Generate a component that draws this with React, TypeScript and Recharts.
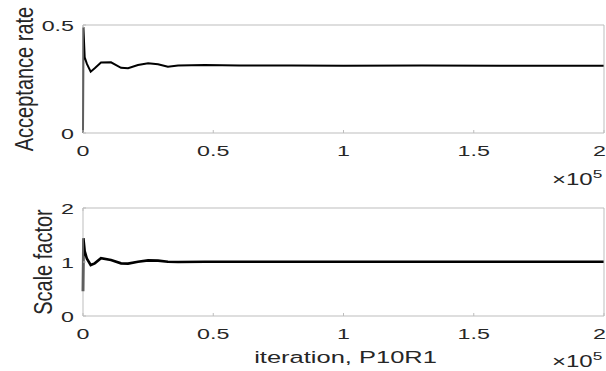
import { LineChart, Line, XAxis, YAxis, Label } from 'recharts';

// values (iteration count, shared x for both panels)
const iterations = [0, 150, 650, 1500, 2950, 4500, 6900, 10750, 14600, 17300, 21100, 25000, 28800, 32600, 36500, 46800, 60000, 80000, 100000, 130000, 160000, 200000];
const acceptanceRate = [0, 0.49, 0.35, 0.32, 0.284, 0.3, 0.326, 0.327, 0.302, 0.3, 0.315, 0.323, 0.318, 0.307, 0.312, 0.315, 0.313, 0.312, 0.311, 0.312, 0.311, 0.311];
const scaleFactor = [0.46, 1.44, 1.2, 1.06, 0.944, 0.975, 1.07, 1.037, 0.975, 0.97, 1.006, 1.03, 1.025, 1.006, 1.0, 1.005, 1.005, 1.006, 1.005, 1.006, 1.005, 1.005];

const xTicks = [0, 50000, 100000, 150000, 200000];
const accTicks = [0, 0.5];
const scaleTicks = [0, 1, 2];

const data = iterations.map((it, i) => ({ it, acc: acceptanceRate[i], sf: scaleFactor[i] }));

const FONT = 'Liberation Sans, Arial, sans-serif';
const TEXT = '#262626';
const AXIS = '#bdbdbd';
const SX = 1.5; // reference glyphs are stretched horizontally

const XTick = ({ x, y, payload }: any) => {
    // last label sits at the right edge of the page, keep it inside
    const last = payload.value === xTicks[xTicks.length - 1];
    return (
        <g transform={`translate(${last ? x + 2 : x},${y})`}>
            <text transform={`scale(${SX},1)`} textAnchor={last ? 'end' : 'middle'} y={23} fontSize={15.5} fill={TEXT} fontFamily={FONT}>
                {String(payload.value / 1e5)}
            </text>
        </g>
    );
};

const YTick = ({ x, y, payload }: any) => (
    <g transform={`translate(${x},${y})`}>
        <text transform={`scale(${SX},1)`} textAnchor="end" dy="0.36em" fontSize={15.5} fill={TEXT} fontFamily={FONT}>
            {String(payload.value)}
        </text>
    </g>
);

const NoTick = () => <g />;

const expLabel = (vb: any, dy: number, xlabel?: string) => {
    const right = vb.x + vb.width;
    return (
        <g fontFamily={FONT} fill={TEXT}>
            <g transform={`translate(${right - 52},${vb.y + dy}) scale(${SX},1)`}>
                <text fontSize={16}>
                    ×10<tspan fontSize={11.5} dy={-7}>5</tspan>
                </text>
            </g>
            {xlabel && (
                <g transform={`translate(${vb.x + vb.width / 2 + 2},${vb.y + 47}) scale(${SX},1)`}>
                    <text fontSize={17} textAnchor="middle">{xlabel}</text>
                </g>
            )}
        </g>
    );
};

const yLabel = (vb: any, dx: number, text: string) => (
    <g transform={`translate(${vb.x + vb.width - dx},${vb.y + vb.height / 2}) scale(1.25,1) rotate(-90)`}>
        <text fontSize={20} textAnchor="middle" fill={TEXT} fontFamily={FONT}>{text}</text>
    </g>
);

const Panel = ({ dataKey, ticks, yMax, title, dx, width, height, margin, strokeWidth, xlabel }: any) => (
    <LineChart width={width} height={height} data={data} margin={margin}>
        <XAxis
            dataKey="it"
            type="number"
            domain={[0, 200000]}
            ticks={xTicks}
            height={1}
            tickSize={-3}
            tickMargin={3}
            tick={<XTick />}
            stroke={AXIS}
            interval={0}
        >
            <Label content={(p: any) => expLabel(p.viewBox, xlabel ? 51 : 52, xlabel)} />
        </XAxis>
        <XAxis
            xAxisId="top"
            orientation="top"
            type="number"
            domain={[0, 200000]}
            ticks={xTicks}
            height={1}
            tickSize={-3}
            tick={NoTick}
            stroke={AXIS}
            interval={0}
        />
        <YAxis
            type="number"
            domain={[0, yMax]}
            ticks={ticks}
            width={1}
            tickSize={-3}
            tickMargin={12}
            tick={<YTick />}
            stroke={AXIS}
            interval={0}
        >
            <Label content={(p: any) => yLabel(p.viewBox, dx, title)} />
        </YAxis>
        <YAxis
            yAxisId="right"
            orientation="right"
            type="number"
            domain={[0, yMax]}
            ticks={ticks}
            width={1}
            tickSize={-3}
            tick={NoTick}
            stroke={AXIS}
            interval={0}
        />
        <Line
            type="linear"
            dataKey={dataKey}
            stroke="#000"
            strokeWidth={strokeWidth}
            dot={false}
            isAnimationActive={false}
        />
    </LineChart>
);

export default function App() {
    return (
        <div style={{ position: 'absolute', left: 0, top: 0, width: 606, height: 371, background: '#fff', overflow: 'hidden' }}>
            <div style={{ position: 'absolute', left: 0, top: 0 }}>
                <Panel
                    dataKey="acc"
                    ticks={accTicks}
                    yMax={0.5}
                    title="Acceptance rate"
                    dx={50}
                    width={606}
                    height={190}
                    margin={{ top: 24, right: 1, bottom: 56, left: 82 }}
                    strokeWidth={2}
                />
            </div>
            <div style={{ position: 'absolute', left: 0, top: 190 }}>
                <Panel
                    dataKey="sf"
                    ticks={scaleTicks}
                    yMax={2}
                    title="Scale factor"
                    dx={31}
                    width={606}
                    height={181}
                    margin={{ top: 17, right: 1, bottom: 54, left: 82 }}
                    strokeWidth={2.6}
                    xlabel="iteration, P10R1"
                />
            </div>
        </div>
    );
}
